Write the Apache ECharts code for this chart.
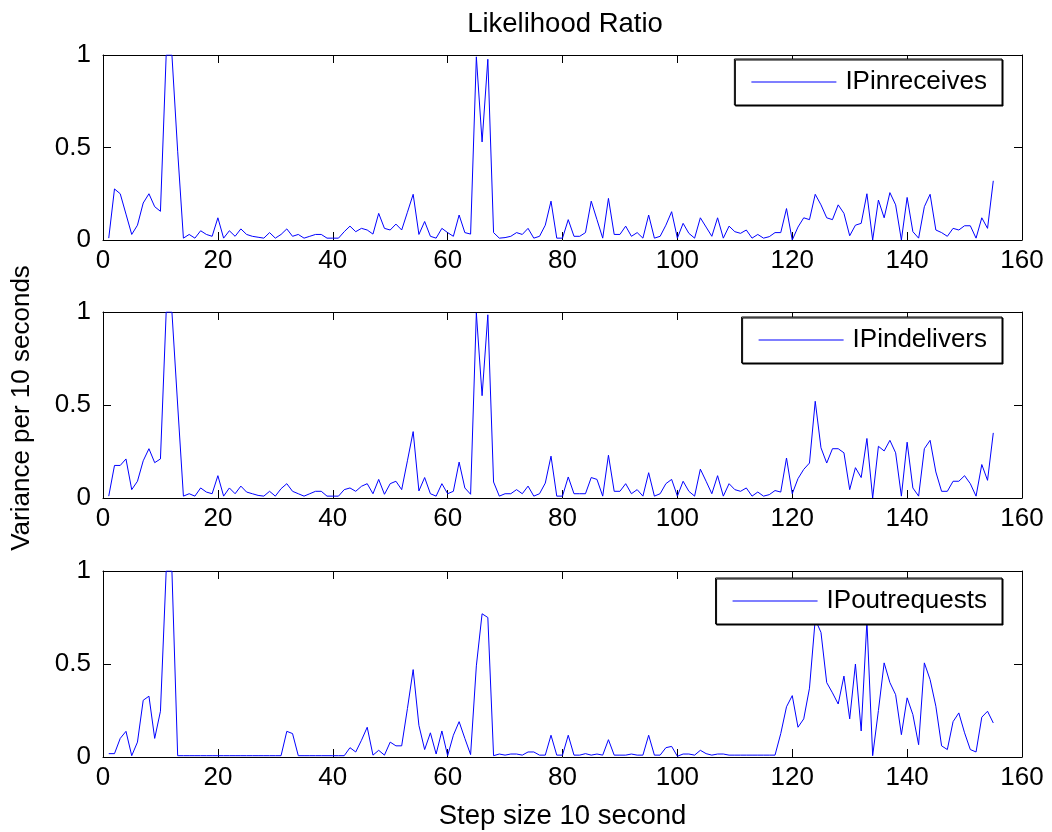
<!DOCTYPE html>
<html><head><meta charset="utf-8">
<script src="https://cdn.jsdelivr.net/npm/echarts@6/dist/echarts.min.js"></script>
<style>html,body{margin:0;padding:0;background:#fff}#c{width:1052px;height:832px}</style>
</head><body><div id="c"></div>
<script>
const titleText = 'Likelihood Ratio';
const xName = 'Step size 10 second';
const yName = 'Variance per 10 seconds';
const seriesNames = ['IPinreceives', 'IPindelivers', 'IPoutrequests'];

const ipInReceives = [
0.01,0.276,0.25,0.14,0.03,0.08,0.2,0.25,0.18,0.155,
1.0,1.0,0.48,0.01,0.03,0.01,0.05,0.03,0.02,0.12,
0.01,0.05,0.02,0.06,0.03,0.02,0.015,0.01,0.04,0.01,
0.03,0.06,0.02,0.03,0.01,0.02,0.03,0.03,0.01,0.01,
0.01,0.045,0.075,0.045,0.063,0.054,0.032,0.144,0.063,0.054,
0.086,0.054,0.15,0.247,0.03,0.1,0.02,0.01,0.063,0.04,
0.02,0.135,0.04,0.032,0.99,0.53,0.977,0.04,0.01,0.013,
0.02,0.04,0.03,0.063,0.01,0.02,0.08,0.21,0.01,0.01,
0.11,0.02,0.02,0.04,0.21,0.11,0.01,0.225,0.03,0.03,
0.075,0.02,0.04,0.01,0.135,0.01,0.02,0.08,0.153,0.01,
0.09,0.036,0.01,0.12,0.07,0.02,0.12,0.01,0.075,0.045,
0.036,0.054,0.01,0.03,0.01,0.018,0.04,0.04,0.17,0.0,
0.07,0.12,0.11,0.247,0.19,0.12,0.11,0.19,0.144,0.023,
0.08,0.09,0.25,0.0,0.216,0.12,0.256,0.19,0.0,0.23,
0.045,0.01,0.18,0.247,0.054,0.04,0.02,0.063,0.054,0.077,
0.077,0.01,0.12,0.063,0.32];

const ipInDelivers = [
0.01,0.175,0.175,0.21,0.045,0.09,0.2,0.265,0.19,0.21,
1.0,1.0,0.5,0.01,0.023,0.01,0.054,0.032,0.023,0.12,
0.01,0.054,0.023,0.064,0.032,0.023,0.014,0.01,0.036,0.01,
0.05,0.077,0.036,0.023,0.01,0.023,0.036,0.036,0.01,0.01,
0.01,0.045,0.054,0.036,0.063,0.077,0.023,0.1,0.02,0.077,
0.09,0.045,0.2,0.357,0.038,0.11,0.023,0.01,0.077,0.023,
0.036,0.193,0.054,0.02,0.995,0.55,0.985,0.086,0.01,0.023,
0.023,0.045,0.023,0.064,0.01,0.023,0.08,0.225,0.01,0.01,
0.113,0.023,0.023,0.023,0.11,0.1,0.01,0.23,0.036,0.036,
0.077,0.023,0.045,0.01,0.136,0.01,0.023,0.077,0.1,0.01,
0.09,0.036,0.01,0.155,0.09,0.023,0.12,0.01,0.077,0.045,
0.036,0.054,0.01,0.032,0.01,0.018,0.04,0.032,0.215,0.023,
0.104,0.154,0.188,0.52,0.27,0.188,0.265,0.265,0.243,0.045,
0.163,0.11,0.32,0.0,0.278,0.253,0.31,0.243,0.01,0.3,
0.054,0.01,0.265,0.31,0.14,0.036,0.036,0.09,0.09,0.12,
0.077,0.01,0.18,0.095,0.35];

const ipOutRequests = [
0.018,0.018,0.1,0.138,0.007,0.08,0.305,0.327,0.1,0.246,
1.0,1.0,0.007,0.007,0.007,0.007,0.007,0.007,0.007,0.007,
0.007,0.007,0.007,0.007,0.007,0.007,0.007,0.007,0.007,0.007,
0.007,0.138,0.126,0.007,0.007,0.007,0.007,0.007,0.007,0.007,
0.007,0.007,0.05,0.027,0.09,0.16,0.01,0.036,0.01,0.08,
0.06,0.06,0.26,0.47,0.17,0.04,0.13,0.016,0.14,0.007,
0.117,0.19,0.1,0.013,0.49,0.77,0.75,0.007,0.016,0.01,
0.016,0.016,0.01,0.027,0.027,0.01,0.01,0.117,0.01,0.01,
0.117,0.01,0.01,0.018,0.01,0.016,0.01,0.093,0.01,0.01,
0.01,0.016,0.01,0.01,0.117,0.01,0.01,0.05,0.057,0.004,
0.016,0.016,0.01,0.036,0.018,0.01,0.016,0.016,0.01,0.01,
0.01,0.01,0.01,0.01,0.01,0.01,0.01,0.126,0.27,0.33,
0.16,0.205,0.37,0.74,0.67,0.4,0.345,0.285,0.435,0.205,
0.5,0.14,0.73,0.007,0.25,0.506,0.4,0.335,0.12,0.318,
0.228,0.066,0.506,0.416,0.273,0.06,0.04,0.19,0.237,0.13,
0.04,0.027,0.214,0.246,0.183];

const steps = ipInReceives.map((_, i) => i + 1);
const xRange = [0, 160], xStep = 20;
const yRange = [0, 1], yStep = 0.5;

const FONT = '"Liberation Sans", Arial, Helvetica, sans-serif';
const FS = 26;
const FS_BIG = 27.5;
const LINE_COLOR = '#0000ff';
const allValues = [ipInReceives, ipInDelivers, ipOutRequests];
const gridBoxes = [{top: 55, height: 185}, {top: 312, height: 186}, {top: 571, height: 186}];
const legendTops = [59, 317, 578];

const grid = gridBoxes.map(g => ({left: 103, width: 919, top: g.top, height: g.height, show: false}));
const xAxis = [], yAxis = [], series = [], legend = [];
gridBoxes.forEach((g, i) => {
  const common = {
    gridIndex: i, type: 'value',
    axisLine: {show: true, onZero: false, lineStyle: {color: '#000', width: 1}},
    axisTick: {show: true, inside: true, length: 8, lineStyle: {color: '#000', width: 1}},
    splitLine: {show: false}
  };
  xAxis.push(Object.assign({}, common, {
    position: 'bottom', min: xRange[0], max: xRange[1], interval: xStep,
    axisLabel: {show: true, color: '#000', fontSize: FS, fontFamily: FONT, margin: 8},
    name: i === 2 ? xName : '', nameLocation: 'middle', nameGap: 45,
    nameTextStyle: {color: '#000', fontSize: FS_BIG, fontFamily: FONT}
  }));
  xAxis.push(Object.assign({}, common, {
    position: 'top', min: xRange[0], max: xRange[1], interval: xStep,
    axisLabel: {show: false}
  }));
  yAxis.push(Object.assign({}, common, {
    position: 'left', min: yRange[0], max: yRange[1], interval: yStep,
    axisLabel: {show: true, color: '#000', fontSize: FS, fontFamily: FONT, margin: 12}
  }));
  yAxis.push(Object.assign({}, common, {
    position: 'right', min: yRange[0], max: yRange[1], interval: yStep,
    axisLabel: {show: false}
  }));
  series.push({
    name: seriesNames[i], type: 'line', xAxisIndex: 2 * i, yAxisIndex: 2 * i,
    data: steps.map((s, k) => [s, allValues[i][k]]),
    symbol: 'none', showSymbol: false, clip: true,
    color: LINE_COLOR,
    lineStyle: {color: LINE_COLOR, width: 1},
    itemStyle: {color: LINE_COLOR}
  });
  legend.push({
    data: [seriesNames[i]], right: 50, top: legendTops[i], orient: 'horizontal',
    selectedMode: false, icon: 'rect', itemWidth: 85, itemHeight: 1,
    padding: [10, 15, 10, 17],
    backgroundColor: '#fff', borderColor: '#000', borderWidth: 1, borderRadius: 0,
    shadowColor: '#000', shadowBlur: 0, shadowOffsetX: 1, shadowOffsetY: 1,
    itemStyle: {color: LINE_COLOR},
    textStyle: {color: '#000', fontSize: FS, fontFamily: FONT, padding: [0, 0, 0, 4]}
  });
});

const chart = echarts.init(document.getElementById('c'), null, {renderer: 'canvas'});
chart.setOption({
  animation: false,
  backgroundColor: '#fff',
  textStyle: {fontFamily: FONT},
  title: {
    text: titleText, left: 560, top: 5, textAlign: 'center',
    textStyle: {color: '#000', fontSize: FS_BIG, fontWeight: 'normal', fontFamily: FONT}
  },
  grid, xAxis, yAxis, series, legend,
  graphic: [{
    type: 'text', x: 22, y: 408, rotation: Math.PI / 2,
    style: {text: yName, fill: '#000', fontSize: FS, fontFamily: FONT, align: 'center', verticalAlign: 'middle'}
  }]
});
</script></body></html>
